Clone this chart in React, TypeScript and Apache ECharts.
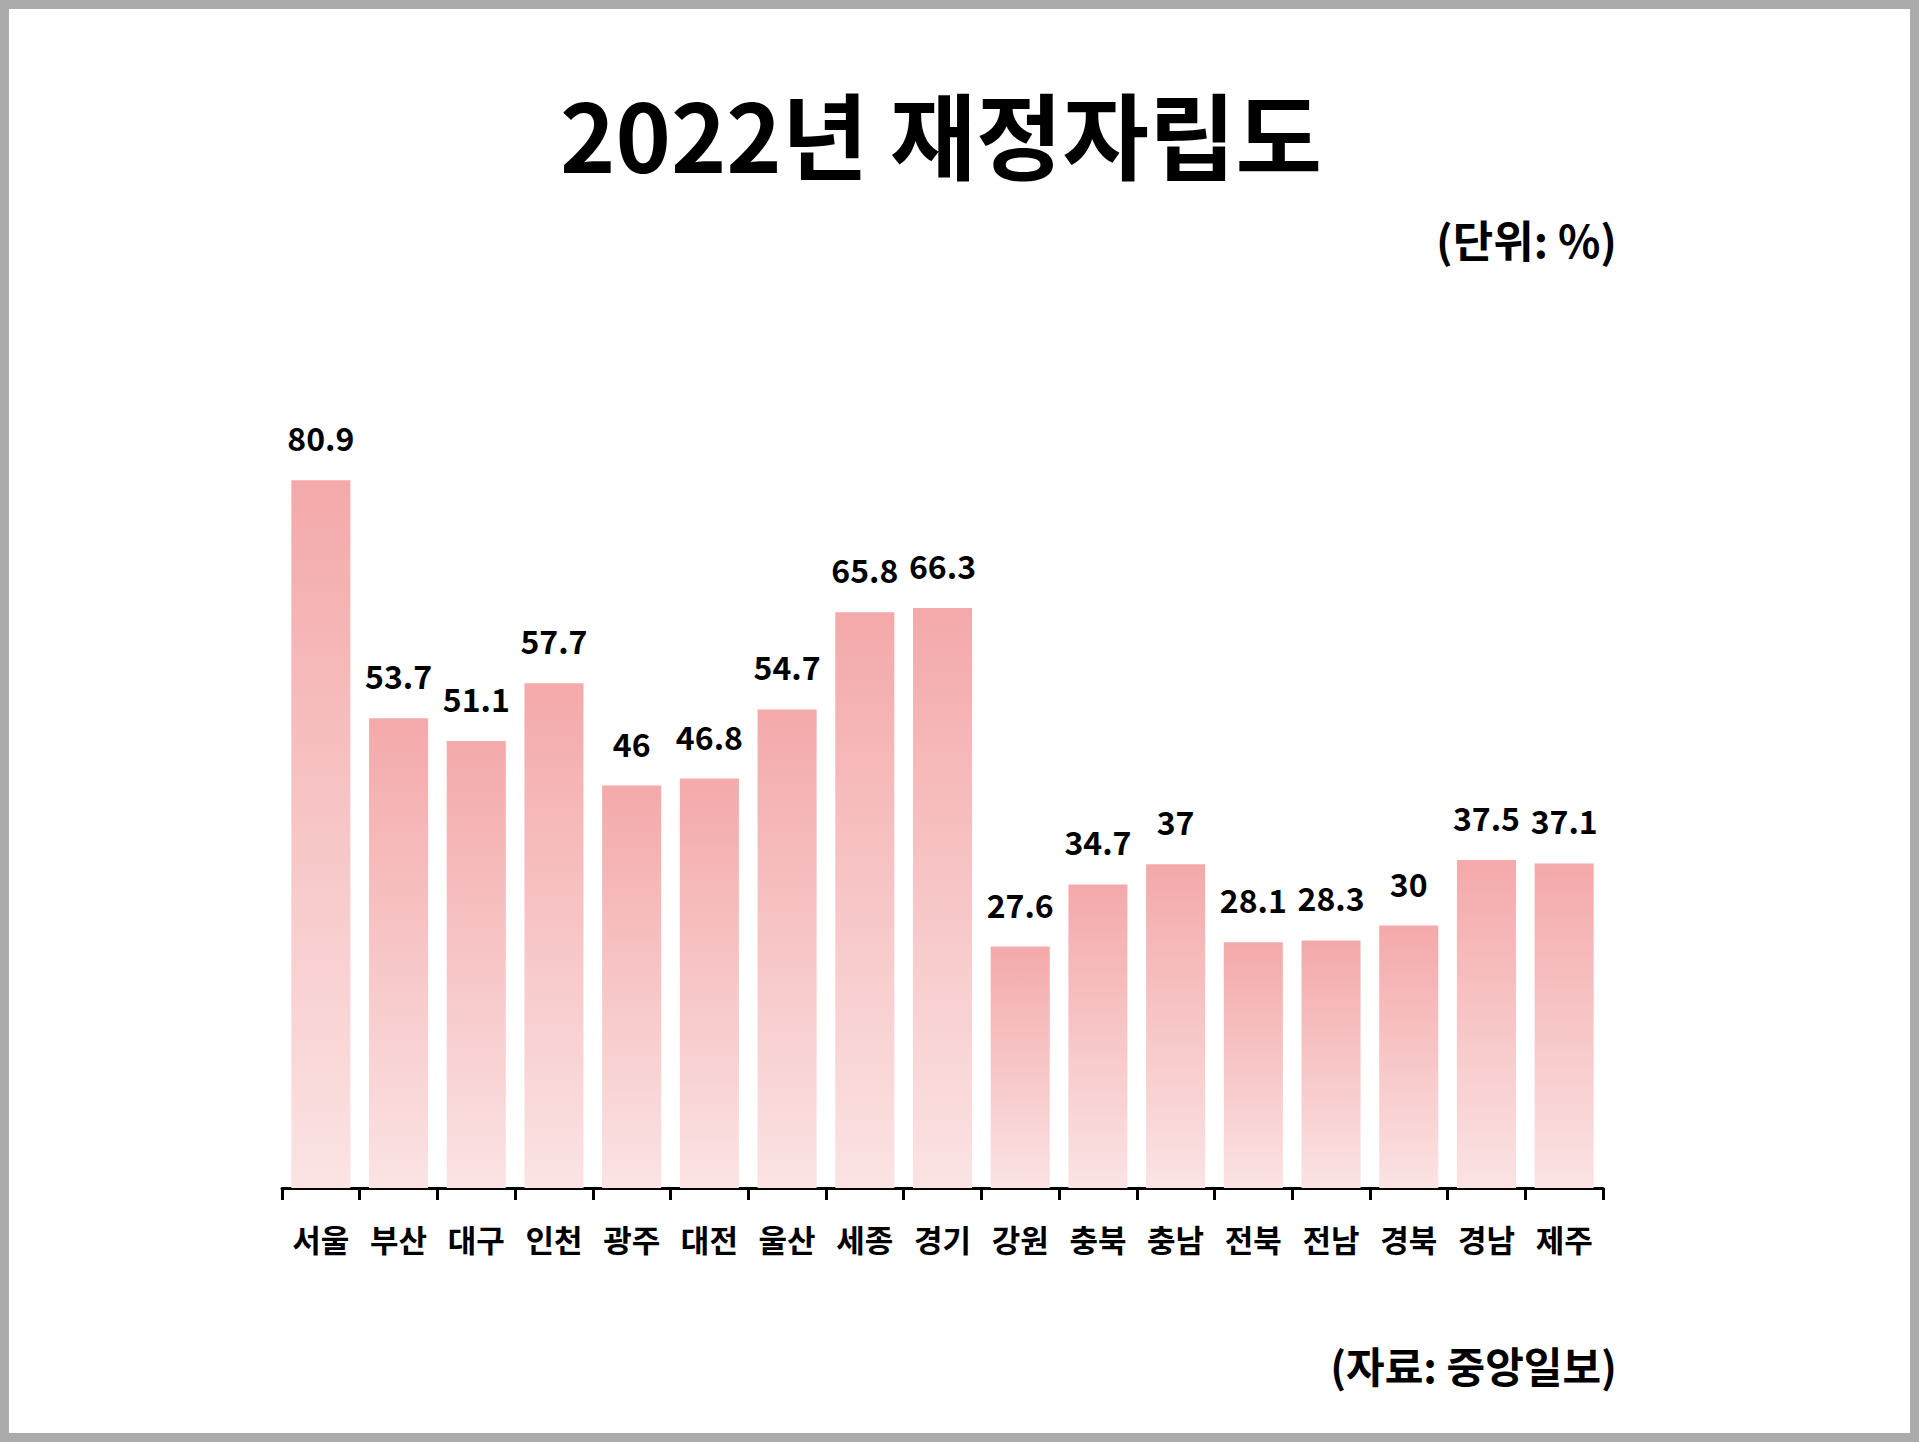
import React, { useEffect, useRef } from 'react';
import * as echarts from 'echarts';

// 2022년 시도별 재정자립도 (%)
const regions = ['서울', '부산', '대구', '인천', '광주', '대전', '울산', '세종', '경기', '강원', '충북', '충남', '전북', '전남', '경북', '경남', '제주'];
const ratios = [80.9, 53.7, 51.1, 57.7, 46, 46.8, 54.7, 65.8, 66.3, 27.6, 34.7, 37, 28.1, 28.3, 30, 37.5, 37.1];

const titleText = '2022년 재정자립도';
const unitText = '(단위: %)';
const sourceText = '(자료: 중앙일보)';

const FONT = '"Noto Sans CJK KR", "Noto Sans", sans-serif';

const App: React.FC = () => {
  const chartRef = useRef<HTMLDivElement>(null);

  useEffect(() => {
    document.body.style.margin = '0';
    if (!chartRef.current) return;
    const chart = echarts.init(chartRef.current, undefined, { renderer: 'svg' });

    const option: echarts.EChartsOption = {
      animation: false,
      backgroundColor: '#ffffff',
      grid: { left: 282, right: 316, top: 313, bottom: 254 },
      xAxis: {
        type: 'category',
        data: regions,
        axisLine: { lineStyle: { color: '#000', width: 3 } },
        axisTick: { show: true, length: 12, lineStyle: { color: '#000', width: 3 } },
        axisLabel: {
          color: '#000',
          fontFamily: FONT,
          fontWeight: 'bold',
          fontSize: 31,
          margin: 35,
          interval: 0,
        },
      },
      yAxis: {
        type: 'value',
        min: 0,
        max: 100,
        show: false,
        splitLine: { show: false },
      },
      series: [
        {
          type: 'bar',
          data: ratios,
          barWidth: '76%',
          itemStyle: {
            color: new echarts.graphic.LinearGradient(0, 0, 0, 1, [
              { offset: 0, color: '#f4a9aa' },
              { offset: 1, color: '#fbe3e4' },
            ]),
          },
          label: {
            show: true,
            position: 'top',
            distance: 27,
            color: '#000',
            fontFamily: FONT,
            fontWeight: 'bold',
            fontSize: 32,
          },
        },
      ],
      graphic: [
        {
          type: 'rect',
          shape: { x: 4.5, y: 4.5, width: 1910, height: 1433 },
          style: { fill: 'none', stroke: '#ababab', lineWidth: 9 },
          silent: true,
        },
        {
          type: 'text',
          x: 941,
          y: 132,
          style: {
            text: titleText,
            font: `bold 94px ${FONT}`,
            fill: '#000',
            textAlign: 'center',
            textVerticalAlign: 'middle',
          },
        },
        {
          type: 'text',
          x: 1617,
          y: 239,
          style: {
            text: unitText,
            font: `bold 44px ${FONT}`,
            fill: '#000',
            textAlign: 'right',
            textVerticalAlign: 'middle',
          },
        },
        {
          type: 'text',
          x: 1617,
          y: 1364,
          style: {
            text: sourceText,
            font: `bold 42px ${FONT}`,
            fill: '#000',
            textAlign: 'right',
            textVerticalAlign: 'middle',
          },
        },
      ],
    };

    chart.setOption(option);
    return () => chart.dispose();
  }, []);

  return <div ref={chartRef} style={{ width: 1919, height: 1442 }} />;
};

export default App;
